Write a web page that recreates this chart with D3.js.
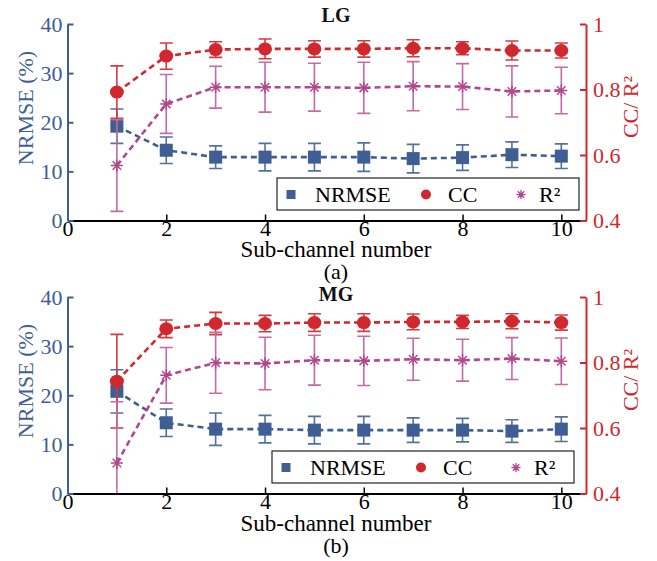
<!DOCTYPE html>
<html>
<head>
<meta charset="utf-8">
<script src="https://cdn.jsdelivr.net/npm/d3@7"></script>
<style>
  body { margin: 0; background: #fff; }
  svg text { font-family: "Liberation Serif", "Times New Roman", serif; }
</style>
</head>
<body>
<div id="chart"></div>
<script>
// Data
const subChannels = [1, 2, 3, 4, 5, 6, 7, 8, 9, 10];

const lgNrmse    = [19.2, 14.3, 12.9, 12.9, 12.9, 12.9, 12.6, 12.8, 13.4, 13.1];
const lgNrmseErr = [3.5, 2.7, 2.3, 2.8, 2.8, 2.9, 2.9, 2.6, 2.6, 2.5];
const lgCC       = [0.792, 0.902, 0.922, 0.924, 0.924, 0.924, 0.926, 0.926, 0.919, 0.919];
const lgCCErr    = [0.080, 0.040, 0.024, 0.030, 0.025, 0.025, 0.026, 0.020, 0.029, 0.023];
const lgR2       = [0.568, 0.756, 0.807, 0.807, 0.807, 0.805, 0.810, 0.809, 0.794, 0.797];
const lgR2Err    = [0.140, 0.090, 0.064, 0.076, 0.073, 0.078, 0.075, 0.070, 0.078, 0.071];

const mgNrmse    = [20.8, 14.4, 13.1, 13.1, 12.9, 12.9, 12.9, 12.9, 12.7, 13.1];
const mgNrmseErr = [4.4, 2.8, 3.3, 2.8, 2.8, 2.8, 2.5, 2.4, 2.3, 2.5];
const mgCC       = [0.743, 0.903, 0.919, 0.919, 0.922, 0.922, 0.924, 0.924, 0.926, 0.922];
const mgCCErr    = [0.143, 0.027, 0.034, 0.025, 0.027, 0.027, 0.024, 0.020, 0.023, 0.023];
const mgR2       = [0.493, 0.761, 0.799, 0.797, 0.807, 0.805, 0.810, 0.807, 0.812, 0.804];
const mgR2Err    = [0.187, 0.085, 0.093, 0.080, 0.076, 0.075, 0.064, 0.064, 0.064, 0.071];

const xTicks = [0, 2, 4, 6, 8, 10];
const leftTicks = [0, 10, 20, 30, 40];
const rightTicks = [0.4, 0.6, 0.8, 1];

// colours
const blue = "#3f5e93";
const blueErr = "#52719f";
const red = "#d0282e";
const redErr = "#d6393e";
const magenta = "#b2478f";
const magentaErr = "#c56aa6";

const width = 657, height = 561;
const svg = d3.select("#chart").append("svg")
  .attr("width", width).attr("height", height);

const x = d3.scaleLinear().domain([0, 10.5]).range([67.5, 586]);

// asterisk marker (+ and x)
function asterisk(r) {
  const p = d3.path();
  const d = r * Math.SQRT1_2;
  p.moveTo(-r, 0); p.lineTo(r, 0);
  p.moveTo(0, -r); p.lineTo(0, r);
  p.moveTo(-d, -d); p.lineTo(d, d);
  p.moveTo(-d, d); p.lineTo(d, -d);
  return p.toString();
}

function drawPanel(cfg) {
  const yL = d3.scaleLinear().domain([0, 40]).range([cfg.bottom, cfg.top]);
  const yR = d3.scaleLinear().domain([0.4, 1]).range([cfg.bottom, cfg.top]);
  const g = svg.append("g");

  const clipId = "clip-" + cfg.name;
  svg.append("clipPath").attr("id", clipId).append("rect")
    .attr("x", x.range()[0]).attr("y", cfg.top)
    .attr("width", x.range()[1] - x.range()[0]).attr("height", cfg.bottom - cfg.top);

  const plot = g.append("g").attr("clip-path", `url(#${clipId})`);

  function series(vals, errs, y, color, errColor, marker) {
    const pts = subChannels.map((c, i) => ({ c, v: vals[i], e: errs[i] }));
    const s = plot.append("g");
    const eb = s.selectAll("g.eb").data(pts).enter().append("g")
      .attr("stroke", errColor).attr("stroke-width", 1.6).attr("fill", "none");
    eb.append("line")
      .attr("x1", d => x(d.c)).attr("x2", d => x(d.c))
      .attr("y1", d => y(d.v - d.e)).attr("y2", d => y(d.v + d.e));
    eb.append("line")
      .attr("x1", d => x(d.c) - 6.5).attr("x2", d => x(d.c) + 6.5)
      .attr("y1", d => y(d.v + d.e)).attr("y2", d => y(d.v + d.e));
    eb.append("line")
      .attr("x1", d => x(d.c) - 6.5).attr("x2", d => x(d.c) + 6.5)
      .attr("y1", d => y(d.v - d.e)).attr("y2", d => y(d.v - d.e));

    s.append("path").datum(pts)
      .attr("fill", "none").attr("stroke", color)
      .attr("stroke-width", 2.6).attr("stroke-dasharray", "6,4")
      .attr("d", d3.line().x(d => x(d.c)).y(d => y(d.v)));

    const m = s.selectAll("g.m").data(pts).enter().append("g")
      .attr("transform", d => `translate(${x(d.c)},${y(d.v)})`);
    if (marker === "square") {
      m.append("rect").attr("x", -6.5).attr("y", -6.5).attr("width", 13).attr("height", 13)
        .attr("fill", color);
    } else if (marker === "circle") {
      m.append("ellipse").attr("rx", 7).attr("ry", 6.5).attr("fill", color);
    } else {
      m.append("path").attr("d", asterisk(6)).attr("stroke", color)
        .attr("stroke-width", 1.5).attr("fill", "none");
    }
  }

  series(cfg.nrmse, cfg.nrmseErr, yL, blue, blueErr, "square");
  series(cfg.cc, cfg.ccErr, yR, red, redErr, "circle");
  series(cfg.r2, cfg.r2Err, yR, magenta, magentaErr, "star");

  // axes
  const xAxis = g.append("g").attr("transform", `translate(0,${cfg.bottom})`)
    .call(d3.axisBottom(x).tickValues(xTicks).tickSize(-6).tickSizeOuter(0).tickPadding(0));
  xAxis.select(".domain").attr("stroke", "#000").attr("stroke-width", 2);
  xAxis.selectAll(".tick line").attr("stroke", "#000").attr("stroke-width", 1.5);
  xAxis.selectAll("text").attr("fill", "#000").attr("font-size", 22);

  const lAxis = g.append("g").attr("transform", `translate(${x.range()[0]},0)`)
    .call(d3.axisLeft(yL).tickValues(leftTicks).tickSize(-6).tickSizeOuter(0).tickPadding(5));
  lAxis.select(".domain").attr("stroke", blue).attr("stroke-width", 2);
  lAxis.selectAll(".tick line").attr("stroke", blue).attr("stroke-width", 2);
  lAxis.selectAll("text").attr("fill", blue).attr("font-size", 22);

  const rAxis = g.append("g").attr("transform", `translate(${x.range()[1]},0)`)
    .call(d3.axisRight(yR).tickValues(rightTicks).tickSize(-6).tickSizeOuter(0).tickPadding(7)
      .tickFormat(d => d === 1 ? "1" : d3.format(".1f")(d)));
  rAxis.select(".domain").attr("stroke", red).attr("stroke-width", 2);
  rAxis.selectAll(".tick line").attr("stroke", red).attr("stroke-width", 2);
  rAxis.selectAll("text").attr("fill", red).attr("font-size", 22);

  // axis labels
  g.append("text")
    .attr("transform", `translate(33,${cfg.top + 84}) rotate(-90)`)
    .attr("text-anchor", "middle").attr("fill", blue).attr("font-size", 22)
    .text("NRMSE (%)");
  g.append("text")
    .attr("transform", `translate(638,${cfg.top + 83}) rotate(-90)`)
    .attr("text-anchor", "middle").attr("fill", red).attr("font-size", 22)
    .text("CC/ R²");

  g.append("text").attr("x", 336).attr("y", cfg.titleY)
    .attr("text-anchor", "middle").attr("font-weight", "bold").attr("font-size", 20)
    .attr("fill", "#111").text(cfg.name);

  g.append("text").attr("x", 336).attr("y", cfg.bottom + cfg.xLabelDy)
    .attr("text-anchor", "middle").attr("font-size", 23).attr("fill", "#000")
    .text("Sub-channel number");
  g.append("text").attr("x", 336).attr("y", cfg.bottom + cfg.xLabelDy + 22)
    .attr("text-anchor", "middle").attr("font-size", 22).attr("fill", "#000")
    .text(cfg.caption);

  // legend
  const lg = g.append("g").attr("transform", `translate(${cfg.legendX},${cfg.bottom - 42.5})`);
  lg.append("rect").attr("width", 302).attr("height", 32)
    .attr("fill", "#fff").attr("stroke", "#222").attr("stroke-width", 1.2);
  lg.append("rect").attr("x", 9.5).attr("y", 12).attr("width", 9).attr("height", 9).attr("fill", blue);
  lg.append("text").attr("x", 38).attr("y", 24).attr("font-size", 22).text("NRMSE");
  lg.append("circle").attr("cx", 149).attr("cy", 16.5).attr("r", 5).attr("fill", red);
  lg.append("text").attr("x", 171).attr("y", 24).attr("font-size", 22).text("CC");
  lg.append("path").attr("transform", "translate(244,16.5)").attr("d", asterisk(4.5))
    .attr("stroke", magenta).attr("stroke-width", 1.3).attr("fill", "none");
  lg.append("text").attr("x", 262).attr("y", 24).attr("font-size", 22).text("R²");
}

drawPanel({
  name: "LG", caption: "(a)", top: 24, bottom: 220.5, titleY: 22, xLabelDy: 36, legendX: 277,
  nrmse: lgNrmse, nrmseErr: lgNrmseErr, cc: lgCC, ccErr: lgCCErr, r2: lgR2, r2Err: lgR2Err
});
drawPanel({
  name: "MG", caption: "(b)", top: 297, bottom: 493.5, titleY: 301, xLabelDy: 37, legendX: 272,
  nrmse: mgNrmse, nrmseErr: mgNrmseErr, cc: mgCC, ccErr: mgCCErr, r2: mgR2, r2Err: mgR2Err
});
</script>
</body>
</html>
